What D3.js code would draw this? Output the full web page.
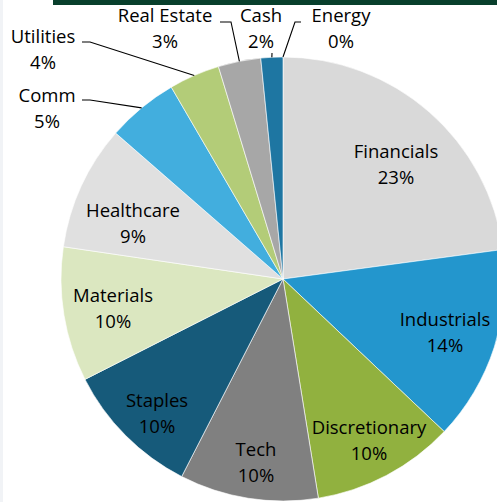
<!DOCTYPE html>
<html>
<head>
<meta charset="utf-8">
<script src="https://cdn.jsdelivr.net/npm/d3@7"></script>
<style>
  html, body { margin: 0; padding: 0; background: #fff; }
  #chart { width: 497px; height: 502px; }
  text { font-family: "Open Sans", "Noto Sans", sans-serif; font-size: 18.5px; fill: #000; }
</style>
</head>
<body>
<div id="chart"></div>
<script>
// sector weights (clockwise from 12 o'clock)
const sectors = ["Financials", "Industrials", "Discretionary", "Tech", "Staples", "Materials",
                 "Healthcare", "Comm", "Utilities", "Real Estate", "Cash", "Energy"];
const weights = [22.9, 14.2, 10.4, 10.1, 10.0, 9.8, 9.1, 5.2, 3.7, 3.1, 1.6, 0];
const colors = ["#d9d9d9", "#2396cd", "#91b13f", "#808080", "#165a7a", "#dbe7c0",
                "#e0e0e0", "#42aede", "#b3cc78", "#a7a7a7", "#1e76a2", "#1e76a2"];

// where each label sits (x centre, y of first baseline + 6, px from pie centre)
const insideLabels = {
  "Financials": [113, -115], "Industrials": [162, 53], "Discretionary": [86, 161],
  "Tech": [-27, 183], "Staples": [-126, 134], "Materials": [-170, 29], "Healthcare": [-150, -56]
};
// outside labels: text position + leader anchor/elbow (px from pie centre)
const outsideLabels = {
  "Utilities":   {text: [-240, -230], path: [[-201, -237], [-193, -237]]},
  "Comm":        {text: [-236, -171], path: [[-201, -179], [-193, -179]]},
  "Real Estate": {text: [-118, -251], path: [[-63, -257], [-52, -257]]},
  "Cash":        {text: [-22, -251],  path: [[-11, -226], [-11, -226]]},
  "Energy":      {text: [58, -251],   path: [[18, -257], [12, -257]]}
};

const W = 497, H = 502;
const cx = 283, cy = 279, R = 222;

const svg = d3.select("#chart").append("svg")
    .attr("width", W)
    .attr("height", H);

svg.append("rect").attr("width", W).attr("height", H).attr("fill", "#fff");
svg.append("rect").attr("x", 0).attr("y", 0).attr("width", 3).attr("height", H).attr("fill", "#f1f3f6");
svg.append("rect").attr("x", 53).attr("y", 0).attr("width", W - 53).attr("height", 5).attr("fill", "#083f2c");

const data = sectors.map((s, i) => ({name: s, value: weights[i], color: colors[i]}));
const total = d3.sum(weights);

const pie = d3.pie().sort(null).value(d => d.value);
const arcs = pie(data);

const arc = d3.arc().innerRadius(0).outerRadius(R);
const edgeArc = d3.arc().innerRadius(R).outerRadius(R);

const g = svg.append("g").attr("transform", `translate(${cx},${cy})`);

g.selectAll("path.slice")
    .data(arcs.filter(d => d.data.value > 0))
    .join("path")
    .attr("class", "slice")
    .attr("d", arc)
    .attr("fill", d => d.data.color)
    .attr("stroke", "#fff")
    .attr("stroke-width", 0.6);

const pct = d => Math.round(d.data.value / total * 100) + "%";

// labels inside the pie
arcs.filter(d => insideLabels[d.data.name]).forEach(d => {
    const [x, y] = insideLabels[d.data.name];
    const t = g.append("text").attr("text-anchor", "middle");
    t.append("tspan").attr("x", x).attr("y", y - 6).text(d.data.name);
    t.append("tspan").attr("x", x).attr("y", y + 20).text(pct(d));
});

// labels outside, with leader lines to the rim
const line = d3.line();
arcs.filter(d => outsideLabels[d.data.name]).forEach(d => {
    const lay = outsideLabels[d.data.name];
    const rim = edgeArc.centroid(d);
    g.append("path")
        .attr("d", line([...lay.path, rim]))
        .attr("fill", "none")
        .attr("stroke", "#000")
        .attr("stroke-width", 1.1);
    const [x, y] = lay.text;
    const t = g.append("text").attr("text-anchor", "middle");
    t.append("tspan").attr("x", x).attr("y", y - 6).text(d.data.name);
    t.append("tspan").attr("x", x).attr("y", y + 20).text(pct(d));
});
</script>
</body>
</html>
